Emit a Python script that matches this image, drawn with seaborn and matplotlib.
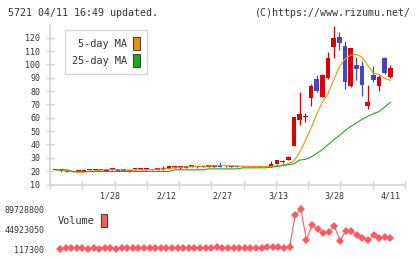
#!/usr/bin/env python3
"""Stock chart 5721: candles, moving averages and volume."""

import matplotlib

matplotlib.use("Agg")
import matplotlib.pyplot as plt
import numpy as np
import pandas as pd
import seaborn as sns
from matplotlib.patches import Patch

# daily prices, oldest first (60 trading days)
OPEN = [21.2, 21.5, 19.8, 19.7, 19.1, 19.6, 21.2, 21.2, 21.2, 20.0,
        21.3, 21.8, 21.8, 19.4, 21.3, 21.3, 21.7, 20.8, 20.8, 21.3,
        21.8, 23.0, 22.0, 22.4, 24.0, 24.0, 23.2, 23.0, 23.0, 24.7,
        24.0, 23.2, 24.0, 23.5, 23.5, 24.0, 23.2, 24.0, 23.2, 25.6,
        27.2, 28.0, 38.7, 58.4, 60.4, 74.6, 89.1, 75.3, 89.9, 112.8,
        120.3, 113.5, 84.1, 99.8, 98.5, 69.1, 92.1, 84.1, 104.5, 90.3]
HIGH = [21.3, 21.5, 19.9, 19.8, 20.8, 21.3, 21.6, 21.6, 21.6, 21.9,
        21.7, 21.9, 21.9, 21.1, 21.7, 21.7, 22.3, 21.9, 22.2, 23.5,
        23.6, 23.6, 23.7, 24.1, 24.5, 24.1, 24.1, 24.8, 24.8, 26.6,
        24.6, 24.1, 24.1, 23.9, 23.9, 24.1, 24.1, 24.1, 27.3, 28.2,
        28.6, 31.7, 60.4, 79.1, 63.7, 85.1, 92.3, 92.9, 109.0, 129.0,
        124.0, 117.3, 112.0, 105.3, 102.3, 84.9, 99.1, 92.1, 105.3, 99.8]
LOW = [21.1, 19.7, 19.0, 19.0, 19.0, 19.5, 20.5, 20.6, 20.6, 20.0,
       20.6, 20.2, 20.2, 19.2, 20.6, 20.6, 21.0, 20.7, 20.7, 21.2,
       21.7, 22.4, 21.9, 22.3, 23.3, 22.1, 23.1, 22.9, 22.9, 22.9,
       23.3, 23.1, 23.0, 23.0, 23.0, 23.1, 23.1, 23.1, 23.1, 25.5,
       26.3, 28.0, 38.7, 54.7, 56.6, 69.1, 79.6, 75.3, 89.1, 104.5,
       110.8, 81.6, 83.4, 88.6, 76.6, 66.7, 86.6, 80.4, 92.9, 89.6]
CLOSE = [21.2, 19.8, 19.2, 19.1, 20.6, 21.2, 21.2, 21.2, 21.2, 21.8,
         21.3, 20.3, 20.3, 21.0, 21.3, 21.3, 21.7, 21.7, 22.1, 22.5,
         23.5, 23.0, 23.5, 24.0, 24.0, 23.2, 24.0, 24.7, 24.7, 23.0,
         24.0, 24.0, 23.2, 23.5, 23.5, 23.2, 24.0, 23.2, 25.5, 28.0,
         27.2, 30.4, 60.4, 62.9, 60.4, 84.1, 80.4, 92.3, 104.5, 119.5,
         116.1, 87.1, 112.0, 96.6, 84.6, 72.1, 88.6, 90.3, 93.3, 97.1]

MA5 = [21.0, 20.8, 20.3, 19.6, 19.2, 19.3, 19.6, 20.2, 20.8, 21.2,
       21.3, 21.1, 21.0, 20.8, 20.8, 20.9, 21.1, 21.3, 21.5, 21.6,
       22.0, 22.5, 22.8, 23.2, 23.5, 23.7, 23.8, 23.9, 24.1, 24.2,
       24.2, 24.1, 23.9, 23.7, 23.6, 23.6, 23.5, 23.5, 23.6, 24.0,
       24.6, 25.5, 27.5, 34.0, 42.5, 52.0, 62.5, 71.5, 78.0, 88.0,
       98.0, 104.0, 107.0, 107.5, 105.5, 99.5, 93.5, 92.5, 89.5, 88.0]
MA25 = [21.0, 21.0, 21.0, 19.8, 19.8, 19.8, 19.8, 19.8, 19.8, 19.8,
        19.8, 19.8, 19.8, 19.8, 19.8, 19.8, 19.8, 19.8, 19.8, 19.8,
        19.8, 21.0, 21.0, 21.0, 21.0, 21.0, 21.0, 21.7, 21.7, 21.7,
        21.7, 21.7, 21.7, 22.5, 22.5, 22.5, 22.5, 22.5, 23.0, 23.5,
        24.2, 24.8, 25.5, 28.3, 28.8, 30.5, 33.2, 36.0, 39.8, 43.3,
        46.7, 50.3, 53.5, 56.0, 58.8, 61.0, 63.0, 64.6, 67.9, 71.6]

VOLUME = [117300, 2100000, 1500000, 1300000, 1600000, 1200000, 1400000, 1000000, 1500000, 1800000,
          1200000, 2600000, 1400000, 1700000, 2400000, 1300000, 1900000, 2800000, 1600000, 2700000,
          1500000, 2000000, 2600000, 1700000, 2300000, 1600000, 2800000, 2100000, 4800000, 1900000,
          1600000, 1800000, 1500000, 1700000, 2000000, 1600000, 1800000, 3800000, 3900000, 5300000,
          1600000, 5400000, 76300000, 89728800, 20300000, 53900000, 44900000, 36600000, 38900000, 51600000,
          18000000, 40400000, 41100000, 31500000, 24000000, 20300000, 31500000, 24000000, 27700000, 24000000]

DATE_LABELS = ["1/28", "2/12", "2/27", "3/13", "3/28", "4/11"]
DATE_DAYS = [9, 19, 29, 39, 49, 59]
PRICE_TICKS = [10, 20, 30, 40, 50, 60, 70, 80, 90, 100, 110, 120]
VOLUME_TICKS = [117300, 44923050, 89728800]

UP = "#dd0000"
DOWN = "#4646bd"
ORANGE = "#f39200"
GREEN = "#1eaa1e"
VOL = "#ff5a5f"
AXIS = "#d4d4d4"
TEXT = "#333333"

W, H = 420, 259


def box(left, top, right, bottom):
    """Pixel box -> figure fraction rect."""
    return [left / W, 1 - bottom / H, (right - left) / W, (bottom - top) / H]


sns.set_style("white")
plt.rcParams["font.family"] = ["DejaVu Sans Mono"]

df = pd.DataFrame({"day": np.arange(len(CLOSE)), "open": OPEN, "high": HIGH,
                   "low": LOW, "close": CLOSE, "ma5": MA5, "ma25": MA25, "volume": VOLUME})
colors = np.where(df["close"] >= df["open"], UP, DOWN)

fig = plt.figure(figsize=(W / 100, H / 100), dpi=100)
ax = fig.add_axes(box(50, 25, 405, 184.5))
axv = fig.add_axes(box(50, 205, 405, 253))

# candles
ax.vlines(df["day"], df["low"], df["high"], colors=colors, lw=0.9, zorder=2)
body = (df["close"] - df["open"]).abs().clip(lower=0.7)
ax.bar(df["day"], body, bottom=df[["open", "close"]].min(axis=1), width=0.82,
       color=colors, linewidth=0, zorder=2)
sns.lineplot(x=df["day"], y=df["ma5"], color=ORANGE, lw=0.8, ax=ax, zorder=3)
sns.lineplot(x=df["day"], y=df["ma25"], color=GREEN, lw=0.8, ax=ax, zorder=3)

ax.set_xlim(-1.0, 61.6)
ax.set_ylim(10, 129.5)
ax.set_xticks(np.linspace(-1.0, 61.6, 12))
ax.set_xticklabels([])
ax.set_yticks(PRICE_TICKS)
ax.set_yticklabels([str(t) for t in PRICE_TICKS])
ax.set(xlabel="", ylabel="")
ax.tick_params(axis="both", direction="inout", length=6, width=1, color=AXIS,
               labelsize=6, labelcolor=TEXT, pad=4, left=True, bottom=True)
for side in ["top", "right"]:
    ax.spines[side].set_visible(False)
for side in ["left", "bottom"]:
    ax.spines[side].set_color(AXIS)
    ax.spines[side].set_linewidth(1.2)

handles = [Patch(facecolor=ORANGE, edgecolor="#444444", lw=0.8, label="5-day MA"),
           Patch(facecolor=GREEN, edgecolor="#444444", lw=0.8, label="25-day MA")]
leg = ax.legend(handles=handles, loc="upper left", bbox_to_anchor=(65 / W, 1 - 30 / H),
                bbox_transform=fig.transFigure, borderaxespad=0, markerfirst=False,
                frameon=True, fancybox=False, edgecolor="#cccccc", fontsize=7.4,
                handlelength=0.6, handleheight=1.5, handletextpad=0.6, borderpad=0.7,
                labelspacing=0.45)
leg.get_frame().set_linewidth(1)
for t in leg.get_texts():
    t.set_color(TEXT)

# volume
sns.lineplot(x=df["day"], y=df["volume"], color=VOL, lw=0.8, marker="D", markersize=4.4,
             markeredgewidth=0, ax=axv)
axv.set_xlim(-1.79, 61.6)
axv.set_ylim(-8.84e6, 98.69e6)
axv.set_yticks(VOLUME_TICKS)
axv.set_yticklabels([str(v) for v in VOLUME_TICKS])
axv.set_xticks(DATE_DAYS)
axv.set_xticklabels(DATE_LABELS)
axv.set(xlabel="", ylabel="")
axv.xaxis.tick_top()
axv.tick_params(axis="x", length=0, pad=3, labelsize=6, labelcolor=TEXT)
axv.tick_params(axis="y", length=0, pad=4, labelsize=6, labelcolor=TEXT)
for side in axv.spines:
    axv.spines[side].set_visible(False)
vleg = axv.legend(handles=[Patch(facecolor=VOL, edgecolor="#444444", lw=0.8, label="Volume")],
                  loc="upper left", bbox_to_anchor=(57 / W, 1 - 213 / H),
                  bbox_transform=fig.transFigure, borderaxespad=0, markerfirst=False,
                  frameon=False, fontsize=7.4, handlelength=0.6, handleheight=1.5,
                  handletextpad=0.6, borderpad=0.1)
for t in vleg.get_texts():
    t.set_color(TEXT)

fig.text(8 / W, 1 - 13 / H, "5721 04/11 16:49 updated.", fontsize=7.2, color=TEXT, va="center")
fig.text(411 / W, 1 - 13 / H, "(C)https://www.rizumu.net/", fontsize=7.2, color=TEXT,
         va="center", ha="right")

fig.savefig("out.png", dpi=100)
